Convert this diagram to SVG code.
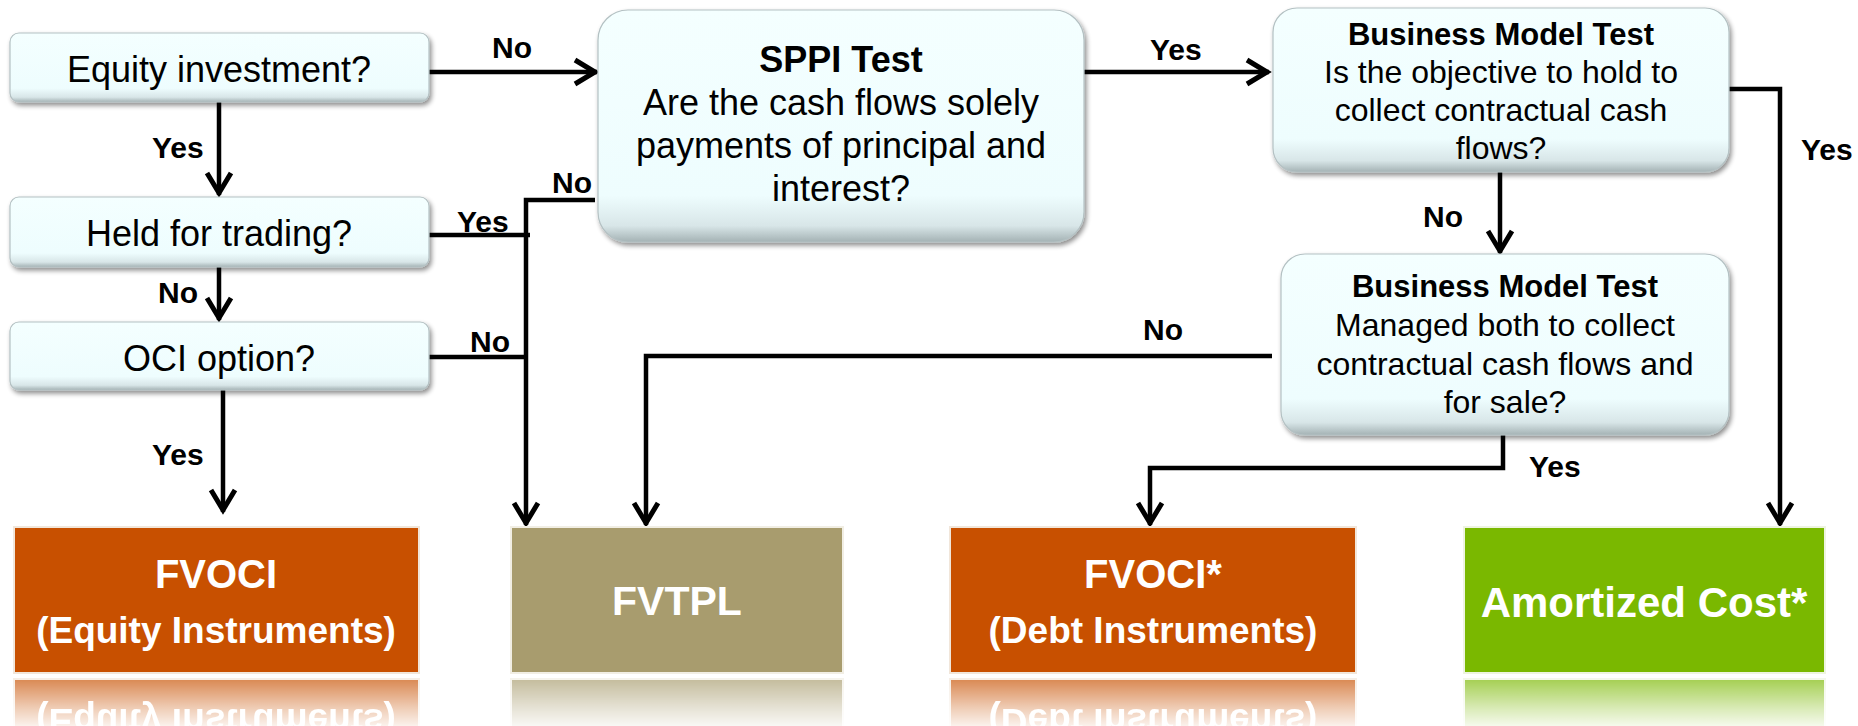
<svg xmlns="http://www.w3.org/2000/svg" xmlns:xlink="http://www.w3.org/1999/xlink" width="1858" height="726" viewBox="0 0 1858 726">
<style>
  .q { fill: url(#qfill); stroke: #B4C1C3; stroke-width: 1.2; filter: url(#sh); }
  .t { font-family: "Liberation Sans", Arial, sans-serif; fill: #000; text-anchor: middle; }
  .tb { font-family: "Liberation Sans", Arial, sans-serif; font-weight: bold; fill: #000; text-anchor: middle; }
  .lbl { font-family: "Liberation Sans", Arial, sans-serif; font-weight: bold; fill: #000; font-size: 30px; }
  .out { font-family: "Liberation Sans", Arial, sans-serif; font-weight: bold; fill: #fff; text-anchor: middle; }
  .con { fill: none; stroke: #000; stroke-width: 4.5; stroke-linecap: butt; stroke-linejoin: miter; }
  .arr { marker-end: url(#ah); }
</style>
<defs>
  <linearGradient id="qfill" x1="0" y1="0" x2="0" y2="1">
    <stop offset="0" stop-color="#F4FFFF"/>
    <stop offset="0.8" stop-color="#EEFDFE"/>
    <stop offset="0.93" stop-color="#D8E6E8"/>
    <stop offset="1" stop-color="#A4B2B4"/>
  </linearGradient>
  <filter id="sh" x="-5%" y="-10%" width="112%" height="130%">
    <feGaussianBlur in="SourceAlpha" stdDeviation="2.5"/>
    <feOffset dx="2" dy="3" result="o"/>
    <feComponentTransfer><feFuncA type="linear" slope="0.45"/></feComponentTransfer>
    <feMerge><feMergeNode/><feMergeNode in="SourceGraphic"/></feMerge>
  </filter>
  <marker id="ah" viewBox="-28 -16 32 32" refX="0" refY="0" markerWidth="32" markerHeight="32" markerUnits="userSpaceOnUse" orient="auto">
    <path d="M-22,-12 L-2,0 L-22,12" fill="none" stroke="#000" stroke-width="5"/>
  </marker>
  <linearGradient id="fadeg" gradientUnits="userSpaceOnUse" x1="0" y1="676" x2="0" y2="728">
    <stop offset="0" stop-color="#fff" stop-opacity="0.72"/>
    <stop offset="0.6" stop-color="#fff" stop-opacity="0.3"/>
    <stop offset="1" stop-color="#fff" stop-opacity="0.05"/>
  </linearGradient>
  <mask id="fade" maskUnits="userSpaceOnUse" x="0" y="676" width="1858" height="60">
    <rect x="0" y="676" width="1858" height="60" fill="url(#fadeg)"/>
  </mask>
</defs>

<!-- connectors -->
<g id="connectors">
  <path class="con arr" d="M429,72 H597"/>
  <path class="con arr" d="M219,102 V195"/>
  <path class="con arr" d="M219,267 V320"/>
  <path class="con arr" d="M223,390 V512"/>
  <path class="con" d="M428,235 H530"/>
  <path class="con" d="M420,357 H526"/>
  <path class="con arr" d="M595,200 H526 V525"/>
  <path class="con arr" d="M1084,72 H1269"/>
  <path class="con arr" d="M1729,89 H1780 V525"/>
  <path class="con arr" d="M1500,172 V253"/>
  <path class="con arr" d="M1272,356 H646 V525"/>
  <path class="con arr" d="M1503,435 V468 H1150 V525"/>
  <text class="lbl" x="492" y="58">No</text>
  <text class="lbl" x="152" y="158">Yes</text>
  <text class="lbl" x="457" y="232">Yes</text>
  <text class="lbl" x="158" y="303">No</text>
  <text class="lbl" x="470" y="352">No</text>
  <text class="lbl" x="552" y="193">No</text>
  <text class="lbl" x="152" y="465">Yes</text>
  <text class="lbl" x="1150" y="60">Yes</text>
  <text class="lbl" x="1801" y="160">Yes</text>
  <text class="lbl" x="1423" y="227">No</text>
  <text class="lbl" x="1143" y="340">No</text>
  <text class="lbl" x="1529" y="477">Yes</text>
</g>

<!-- question nodes -->
<g id="equity">
  <rect class="q" x="10" y="33" width="419" height="69" rx="9"/>
  <text class="t" x="219" y="82" font-size="36">Equity investment?</text>
</g>
<g id="held">
  <rect class="q" x="10" y="197" width="419" height="70" rx="9"/>
  <text class="t" x="219" y="246" font-size="36">Held for trading?</text>
</g>
<g id="oci">
  <rect class="q" x="10" y="322" width="419" height="68" rx="9"/>
  <text class="t" x="219" y="371" font-size="36">OCI option?</text>
</g>
<g id="sppi">
  <rect class="q" x="598" y="10" width="486" height="232" rx="30"/>
  <text class="tb" x="841" y="72" font-size="36">SPPI Test</text>
  <text class="t" x="841" y="115" font-size="36">Are the cash flows solely</text>
  <text class="t" x="841" y="158" font-size="36">payments of principal and</text>
  <text class="t" x="841" y="201" font-size="36">interest?</text>
</g>
<g id="bmt1">
  <rect class="q" x="1273" y="8" width="456" height="164" rx="24"/>
  <text class="tb" x="1501" y="45" font-size="31">Business Model Test</text>
  <text class="t" x="1501" y="83" font-size="32">Is the objective to hold to</text>
  <text class="t" x="1501" y="121" font-size="32">collect contractual cash</text>
  <text class="t" x="1501" y="159" font-size="32">flows?</text>
</g>
<g id="bmt2">
  <rect class="q" x="1281" y="254" width="448" height="181" rx="24"/>
  <text class="tb" x="1505" y="297" font-size="31">Business Model Test</text>
  <text class="t" x="1505" y="336" font-size="32">Managed both to collect</text>
  <text class="t" x="1505" y="375" font-size="32">contractual cash flows and</text>
  <text class="t" x="1505" y="413" font-size="32">for sale?</text>
</g>

<!-- outcome nodes -->
<g id="fvoci-eq">
  <rect x="14" y="527" width="405" height="146" fill="#C85000" stroke="#F1E6DA" stroke-width="2"/>
  <text class="out" x="216" y="588" font-size="40">FVOCI</text>
  <text class="out" x="216" y="643" font-size="37">(Equity Instruments)</text>
</g>
<g id="fvtpl">
  <rect x="511" y="527" width="332" height="146" fill="#A89C6E" stroke="#F1EEE4" stroke-width="2"/>
  <text class="out" x="677" y="615" font-size="41">FVTPL</text>
</g>
<g id="fvoci-debt">
  <rect x="950" y="527" width="406" height="146" fill="#C85000" stroke="#F1E6DA" stroke-width="2"/>
  <text class="out" x="1153" y="588" font-size="40">FVOCI*</text>
  <text class="out" x="1153" y="643" font-size="37">(Debt Instruments)</text>
</g>
<g id="amortized">
  <rect x="1464" y="527" width="361" height="146" fill="#7AB800" stroke="#EEF4E0" stroke-width="2"/>
  <text class="out" x="1644" y="617" font-size="42">Amortized Cost*</text>
</g>

<!-- reflections -->
<g id="reflections" mask="url(#fade)">
  <g transform="matrix(1 0 0 -1 0 1352)">
    <use xlink:href="#fvoci-eq"/>
    <use xlink:href="#fvtpl"/>
    <use xlink:href="#fvoci-debt"/>
    <use xlink:href="#amortized"/>
  </g>
</g>
</svg>
